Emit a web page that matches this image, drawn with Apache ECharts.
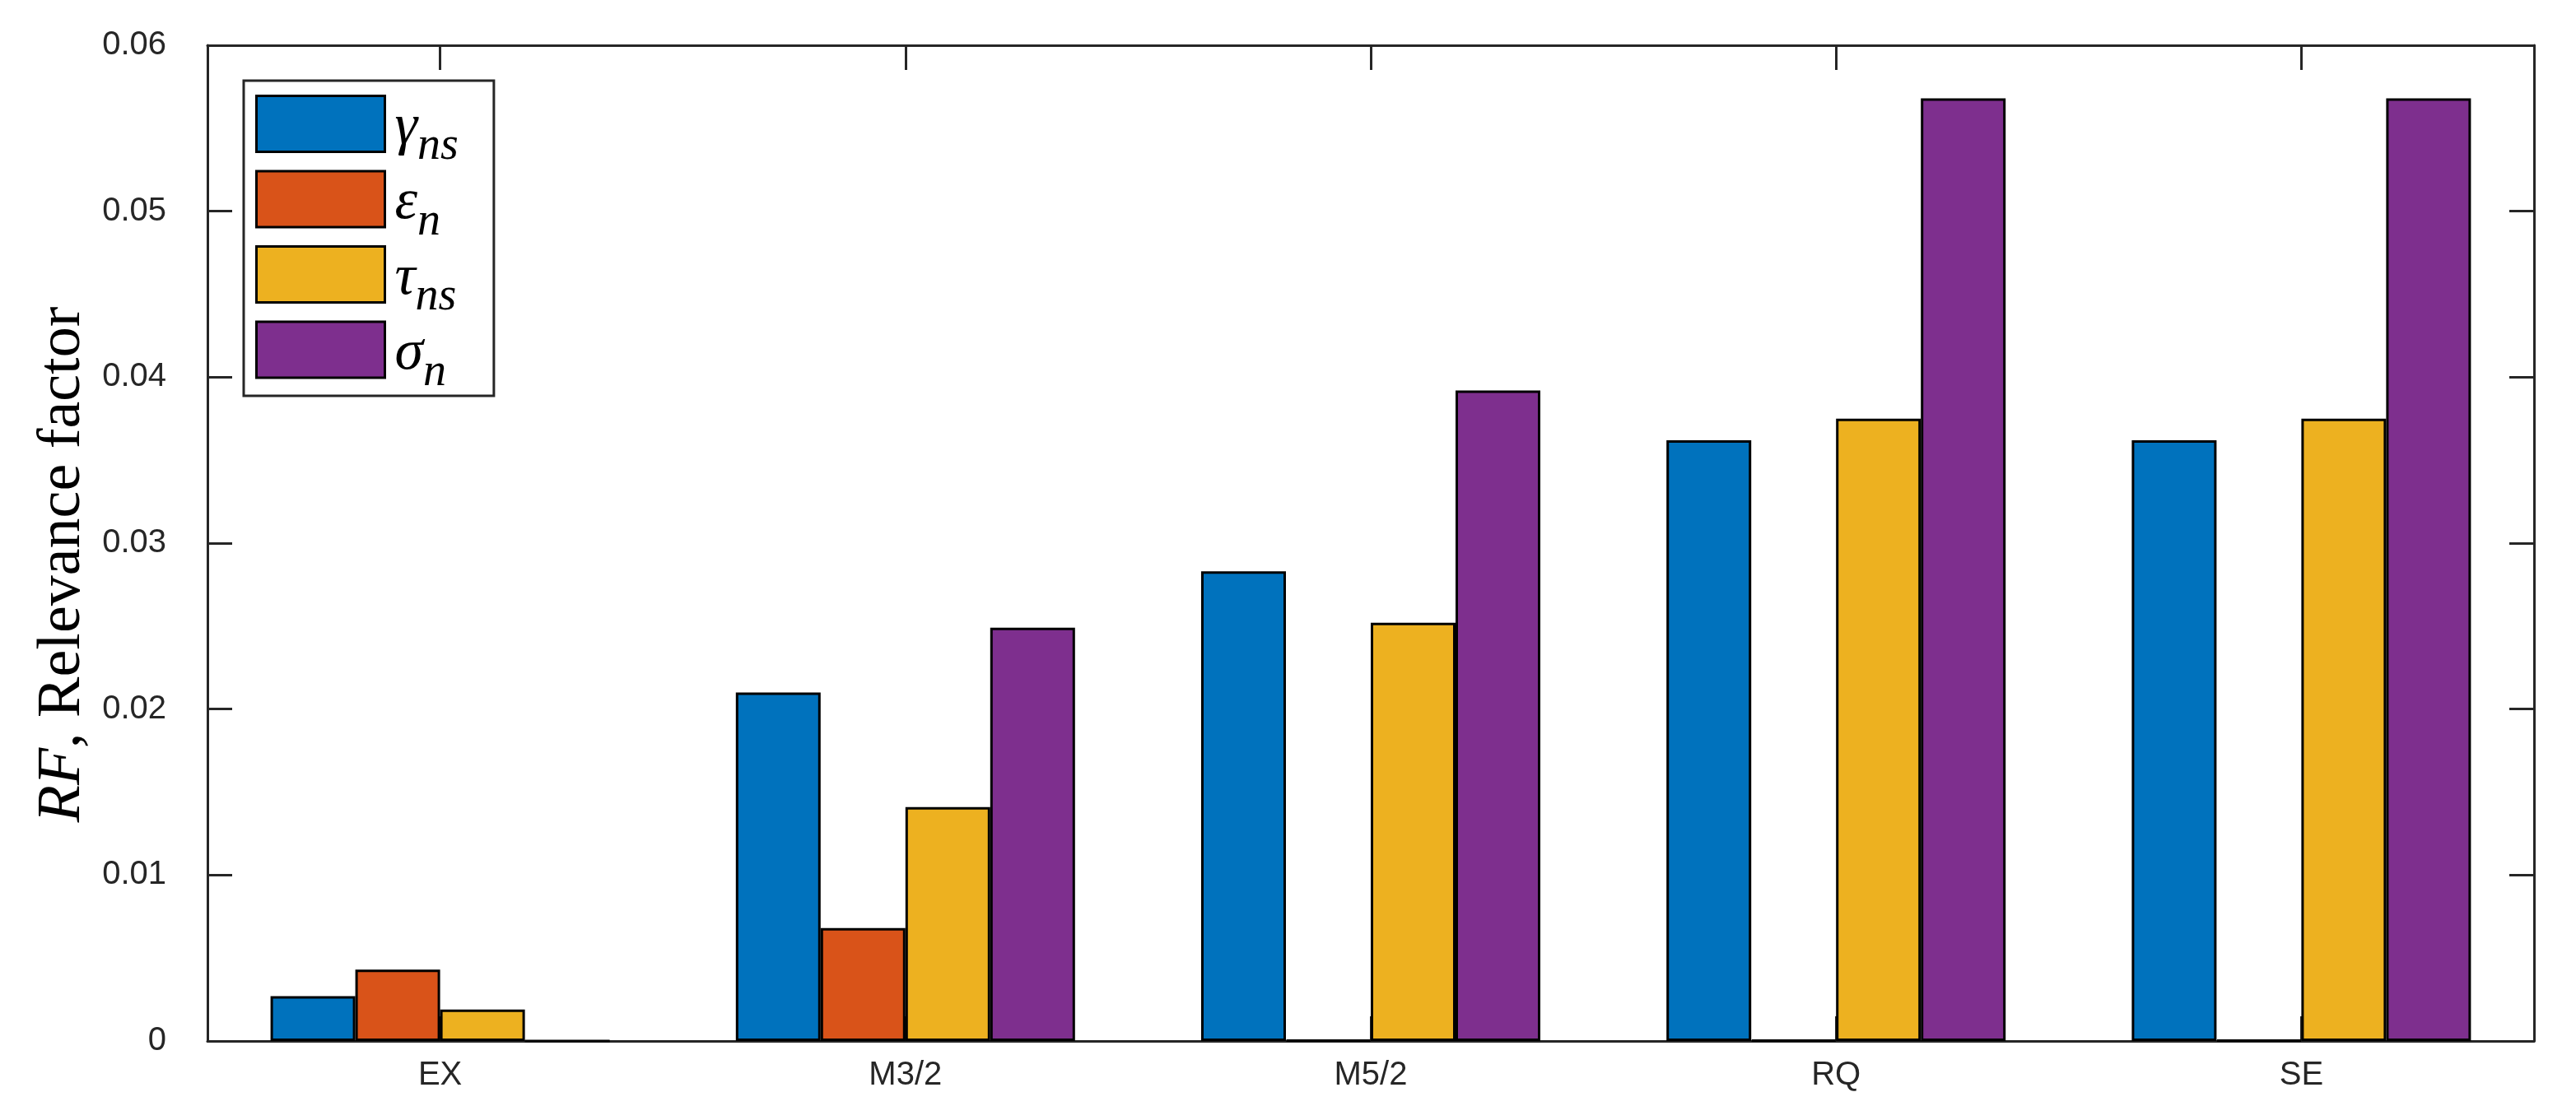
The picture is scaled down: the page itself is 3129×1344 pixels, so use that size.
<!DOCTYPE html>
<html>
<head>
<meta charset="utf-8">
<script src="https://cdn.jsdelivr.net/npm/echarts@6/dist/echarts.min.js"></script>
<style>
  html, body { margin: 0; padding: 0; background: #fff; }
  #chart { width: 3129px; height: 1344px; }
</style>
</head>
<body>
<div id="chart"></div>
<script>
// categories (kernels)
var kernels = ['EX', 'M3/2', 'M5/2', 'RQ', 'SE'];
// relevance factor per hyperparameter
var gammaNs = [0.0027, 0.0210, 0.0283, 0.0362, 0.0362];
var epsN    = [0.0043, 0.0068, 0.00005, 0.00005, 0.00005];
var tauNs   = [0.0019, 0.0141, 0.0252, 0.0375, 0.0375];
var sigmaN  = [0, 0.0249, 0.0392, 0.0568, 0.0568];
var yTicks  = [0, 0.01, 0.02, 0.03, 0.04, 0.05, 0.06];

var symbols = ['γ', 'ε', 'τ', 'σ'];
var subs    = ['ns', 'n', 'ns', 'n'];
var names   = ['γ_ns', 'ε_n', 'τ_ns', 'σ_n'];
var colors  = ['#0072BD', '#D95319', '#EDB120', '#7E2F8E'];
var values  = [gammaNs, epsN, tauNs, sigmaN];

var axisColor = '#262626';
var labelFont = 'Liberation Sans';
var mathFont = 'Liberation Serif';

var myChart = echarts.init(document.getElementById('chart'));

var series = [];
for (var i = 0; i < names.length; i++) {
    series.push({
        name: names[i],
        type: 'bar',
        xAxisIndex: 0,
        yAxisIndex: 0,
        data: values[i],
        barWidth: 103,
        barGap: '0%',
        itemStyle: {
            color: colors[i],
            borderColor: '#000',
            borderWidth: 3
        }
    });
}

function boxAxisX(pos, showLabel) {
    return {
        type: 'category',
        position: pos,
        data: kernels,
        axisLine: { show: true, onZero: false, lineStyle: { color: axisColor, width: 3 } },
        axisTick: { show: true, inside: true, alignWithLabel: true, length: 30, lineStyle: { color: axisColor, width: 3 } },
        axisLabel: { show: showLabel, color: axisColor, fontSize: 40, fontFamily: labelFont, margin: 22 },
        splitLine: { show: false }
    };
}

function boxAxisY(pos, showLabel) {
    return {
        type: 'value',
        position: pos,
        min: yTicks[0],
        max: yTicks[yTicks.length - 1],
        interval: 0.01,
        axisLine: { show: true, lineStyle: { color: axisColor, width: 3 } },
        axisTick: { show: true, inside: true, length: 30, lineStyle: { color: axisColor, width: 3 } },
        axisLabel: {
            show: showLabel, color: axisColor, fontSize: 40, fontFamily: labelFont, margin: 50,
            padding: [0, 0, 22, 0],
            formatter: function (v) { return String(+v.toFixed(2)); }
        },
        splitLine: { show: false }
    };
}

var yLeft = boxAxisY('left', true);
yLeft.name = '{i|RF}, Relevance factor';
yLeft.nameLocation = 'middle';
yLeft.nameGap = 138;
yLeft.nameTextStyle = {
    fontFamily: mathFont,
    fontSize: 74,
    color: '#000',
    padding: [0, 52, 0, 0],
    rich: {
        i: { fontFamily: mathFont, fontStyle: 'italic', fontSize: 74, color: '#000' }
    }
};

option = {
    backgroundColor: '#fff',
    animation: false,
    grid: { left: 252, right: 51, top: 55, bottom: 79 },
    legend: {
        orient: 'vertical',
        left: 296,
        top: 98,
        padding: [17, 43, 0, 14],
        icon: 'rect',
        itemWidth: 156,
        itemHeight: 68,
        itemGap: 0,
        itemStyle: { borderColor: '#000', borderWidth: 3 },
        borderColor: axisColor,
        borderWidth: 3,
        backgroundColor: '#fff',
        data: names,
        formatter: function (name) {
            var k = names.indexOf(name);
            return '{m|' + symbols[k] + '}{s|' + subs[k] + '}';
        },
        textStyle: {
            fontFamily: mathFont,
            fontStyle: 'italic',
            padding: [0, 0, 0, 7],
            rich: {
                m: { fontFamily: mathFont, fontStyle: 'italic', fontSize: 70, color: '#000', lineHeight: 60, verticalAlign: 'top' },
                s: { fontFamily: mathFont, fontStyle: 'italic', fontSize: 56, color: '#000', lineHeight: 40, padding: [30, 0, 0, 0], verticalAlign: 'top' }
            }
        }
    },
    xAxis: [boxAxisX('bottom', true), boxAxisX('top', false)],
    yAxis: [yLeft, boxAxisY('right', false)],
    series: series
};

myChart.setOption(option);
</script>
</body>
</html>
